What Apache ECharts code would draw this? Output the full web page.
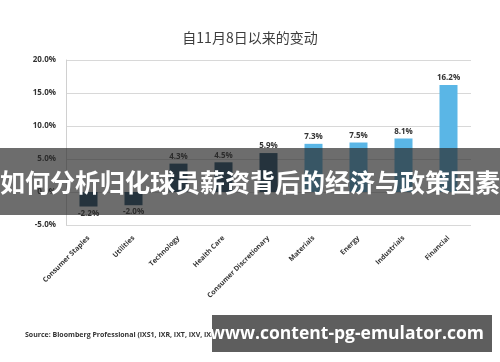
<!DOCTYPE html>
<html><head><meta charset="utf-8">
<script src="https://cdn.jsdelivr.net/npm/echarts@6/dist/echarts.min.js"></script>
<style>html,body{margin:0;padding:0;background:#fff}#c{width:500px;height:362px}</style>
</head><body><div id="c"></div>
<script>
const title = '自11月8日以来的变动';
const categories = ['Consumer Staples','Utilities','Technology','Health Care','Consumer Discretionary','Materials','Energy','Industrials','Financial'];
const values = [-2.2, -2.0, 4.3, 4.5, 5.9, 7.3, 7.5, 8.1, 16.2];
const barColors = ['#1f4d6b','#1f4d6b','#1f4d6b','#1f4d6b','#1f4d6b','#5ab6e6','#5ab6e6','#5ab6e6','#5ab6e6'];
const yTicks = [-5, 0, 5, 10, 15, 20];
const bannerText = '如何分析归化球员薪资背后的经济与政策因素';
const sourceText = 'Source: Bloomberg Professional (IXS1, IXR, IXT, IXV, IXM, IXE, IXY, IXI, IXB)';
const watermark = 'www.content-pg-emulator.com';

const chart = echarts.init(document.getElementById('c'));
chart.setOption({
  animation: false,
  title: {text: title, left: 'center', top: 26, textStyle: {fontSize: 14, fontWeight: 'normal', color: '#3d3d3d', fontFamily: 'Noto Sans CJK SC'}},
  grid: {left: 66, right: 29, top: 60, bottom: 137},
  xAxis: {type: 'category', data: categories,
    axisLine: {show: false}, axisTick: {show: false},
    axisLabel: {rotate: 45, interval: 0, fontSize: 7, fontWeight: 'bold', color: '#333', margin: 12, fontFamily: 'Open Sans'}},
  yAxis: {type: 'value', min: yTicks[0], max: yTicks[yTicks.length-1], interval: 5,
    axisLine: {show: true, lineStyle: {color: '#d0d0d0'}}, axisTick: {show: false},
    splitLine: {lineStyle: {color: '#d8d8d8'}},
    axisLabel: {formatter: v => v.toFixed(1) + '%', fontSize: 8, fontWeight: 'bold', color: '#333', margin: 10, fontFamily: 'Open Sans'}},
  series: [{type: 'bar', barWidth: 18,
    data: values.map((v, i) => ({value: v, itemStyle: {color: barColors[i]},
      label: {position: v < 0 ? 'bottom' : 'top'}})),
    label: {show: true, formatter: p => p.value.toFixed(1) + '%', fontSize: 8, fontWeight: 'bold', color: '#333', fontFamily: 'Open Sans', distance: 3}}],
  graphic: [
    {type: 'rect', z: 100, shape: {x: 0, y: 148, width: 500, height: 67}, style: {fill: 'rgba(40,40,40,0.68)'}},
    {type: 'text', z: 101, x: 250, y: 182, style: {text: bannerText, fill: '#fff', font: 'bold 25px "Noto Sans CJK SC"', textAlign: 'center', textVerticalAlign: 'middle'}},
    {type: 'text', z: 50, x: 25, y: 335, style: {text: sourceText, fill: '#333', font: 'bold 7px "Open Sans"', textVerticalAlign: 'middle'}},
    {type: 'rect', z: 100, shape: {x: 212, y: 315, width: 280, height: 37}, style: {fill: 'rgba(85,85,85,0.95)'}},
    {type: 'text', z: 101, x: 347, y: 334, style: {text: watermark, fill: '#fff', font: 'bold 17.5px "Open Sans"', textAlign: 'center', textVerticalAlign: 'middle'}}
  ]
});
</script></body></html>
